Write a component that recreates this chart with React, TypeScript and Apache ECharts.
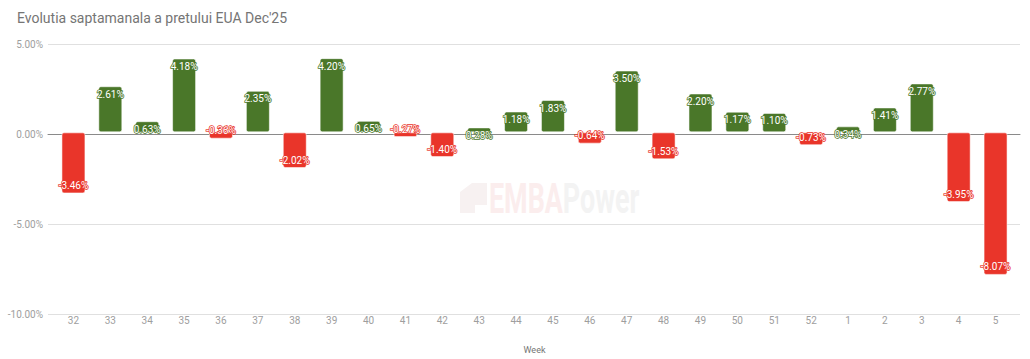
import React, { useEffect, useRef } from "react";
import * as echarts from "echarts";

const categories = ["32","33","34","35","36","37","38","39","40","41","42","43","44","45","46","47","48","49","50","51","52","1","2","3","4","5"];
const changes = [-3.46, 2.61, 0.63, 4.18, -0.36, 2.35, -2.02, 4.2, 0.65, -0.27, -1.4, 0.28, 1.18, 1.83, -0.64, 3.5, -1.53, 2.2, 1.17, 1.1, -0.73, 0.34, 1.41, 2.77, -3.95, -8.07];
const yTicks = [-10, -5, 0, 5];

const GREEN = "#4a7729";
const RED = "#e9352a";

export default function App() {
  const ref = useRef<HTMLDivElement>(null);
  useEffect(() => {
    document.body.style.margin = "0";
    if (!ref.current) return;
    const chart = echarts.init(ref.current, null, { renderer: "svg" });
    const font = "Roboto, Arial, sans-serif";
    const data = changes.map((v) => {
      const c = v >= 0 ? GREEN : RED;
      return {
        value: v,
        itemStyle: { color: c },
        label: {
          position: v >= 0 ? "insideTop" : "insideBottom",
          textBorderColor: c,
        },
      };
    });
    chart.setOption({
      animation: false,
      backgroundColor: "#ffffff",
      title: {
        text: "Evolutia saptamanala a pretului EUA Dec'25",
        left: 12,
        top: 6,
        textStyle: { fontFamily: font, fontSize: 14, fontWeight: "normal", color: "#757575" },
      },
      graphic: [
        {
          type: "text",
          x: 489,
          y: 199,
          scaleX: 0.64,
          silent: true,
          z: 0,
          style: {
            text: "{a|EMBA}{b|Power}",
            verticalAlign: "middle",
            rich: {
              a: { fontFamily: font, fontSize: 42, fontWeight: "bold", fill: "#fbeded" },
              b: { fontFamily: font, fontSize: 42, fontWeight: "bold", fill: "#f3f3f3" },
            },
          },
        },
        {
          type: "polygon",
          silent: true,
          z: 0,
          shape: { points: [[460, 192], [472, 183], [487, 183], [487, 205], [475, 205], [475, 213], [460, 213]] },
          style: { fill: "#f7f1f1" },
        },
      ],
      grid: [
        { left: 48, right: 10, top: 44, bottom: 45 },
        { left: 55, right: 16, top: 44, bottom: 45 },
      ],
      xAxis: [
        {
          gridIndex: 0,
          type: "value",
          min: 0,
          max: 1,
          axisLine: { show: true, onZero: true, lineStyle: { color: "#8a8a8a", width: 1 } },
          axisTick: { show: false },
          axisLabel: { show: false },
          splitLine: { show: false },
        },
        {
          gridIndex: 1,
          type: "category",
          data: categories,
          axisLine: { show: false },
          axisTick: { show: false },
          axisLabel: { margin: 6, fontFamily: font, fontSize: 10, color: "#9e9e9e" },
          name: "Week",
          nameLocation: "middle",
          nameGap: 36,
          nameTextStyle: { fontFamily: font, fontSize: 9, color: "#757575" },
        },
      ],
      yAxis: [
        {
          gridIndex: 0,
          type: "value",
          min: yTicks[0],
          max: yTicks[yTicks.length - 1],
          interval: 5,
          axisLine: { show: false },
          axisTick: { show: false },
          axisLabel: {
            margin: 5,
            fontFamily: font,
            fontSize: 10,
            color: "#9e9e9e",
            formatter: (v: number) => v.toFixed(2) + "%",
          },
          splitLine: { show: true, lineStyle: { color: "#e0e0e0", width: 1 } },
        },
        {
          gridIndex: 1,
          type: "value",
          min: yTicks[0],
          max: yTicks[yTicks.length - 1],
          interval: 5,
          show: false,
          splitLine: { show: false },
        },
      ],
      series: [
        {
          type: "bar",
          xAxisIndex: 1,
          yAxisIndex: 1,
          barWidth: 24,
          data,
          z: 3,
          itemStyle: { borderColor: "rgba(255,255,255,0.55)", borderWidth: 1, borderRadius: 2 },
          label: {
            show: true,
            distance: 3,
            fontFamily: font,
            fontSize: 10,
            color: "#ffffff",
            textBorderWidth: 1.5,
            formatter: (p: any) => p.value.toFixed(2) + "%",
          },
        },
      ],
    });
    return () => chart.dispose();
  }, []);
  return <div ref={ref} style={{ width: 1030, height: 359 }} />;
}
